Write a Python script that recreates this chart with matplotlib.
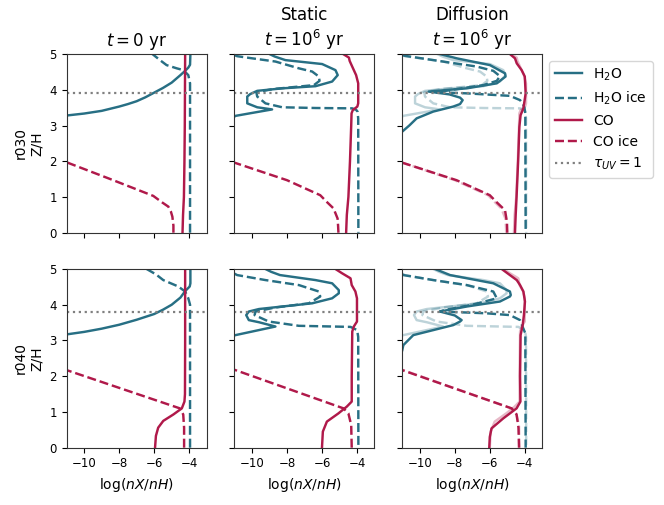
import matplotlib
matplotlib.use("Agg")
import matplotlib.pyplot as plt

# ---------------- data (log abundance x vs height z/H) ----------------
# r030, t = 0
r030_t0_h2o_z = [3.28, 3.335, 3.41, 3.53, 3.6, 3.68, 3.79, 3.92, 4.05, 4.2, 4.41, 4.53, 4.62, 4.7, 5.0]
r030_t0_h2o_x = [-11, -10, -9, -8, -7.5, -7, -6.5, -6, -5.5, -5, -4.5, -4.23, -4.05, -3.95, -3.93]
r030_t0_h2oice_z = [0, 4.18, 4.41, 4.55, 4.6, 4.69, 4.83, 5.0]
r030_t0_h2oice_x = [-3.95, -3.95, -4.05, -4.33, -4.71, -5.29, -5.67, -6.1]
r030_t0_co_z = [0, 0.5, 1.0, 2.0, 3.0, 4.0, 5.0]
r030_t0_co_x = [-4.38, -4.35, -4.3, -4.27, -4.25, -4.24, -4.23]
r030_t0_coice_z = [0, 0.2, 0.45, 0.6, 0.73, 0.85, 1.03, 1.5, 1.97]
r030_t0_coice_x = [-4.9, -4.9, -4.96, -5.05, -5.19, -5.55, -6.05, -8.5, -11]

# r030, static, t = 1e6 yr
r030_st_h2o_z = [5.0, 4.93, 4.83, 4.72, 4.55, 4.41, 4.23, 4.1, 4.04, 3.97, 3.88, 3.81,
                 3.62, 3.51, 3.45, 3.36, 3.27, 3.25]
r030_st_h2o_x = [-9.0, -8.7, -8.09, -5.99, -5.23, -5.1, -5.42, -6.37, -8.27, -9.7, -10.1, -10.27,
                 -10.27, -9.7, -8.85, -9.9, -10.94, -11]
r030_st_h2oice_z = [4.97, 4.94, 4.88, 4.79, 4.6, 4.51, 4.37, 4.25, 4.13, 4.02, 3.93, 3.81,
                    3.62, 3.51, 3.49, 3.48, 3.44, 3.39, 3.2, 0]
r030_st_h2oice_x = [-11, -10.85, -9.99, -8.66, -7.32, -6.56, -6.18, -6.14, -6.46, -8.8, -9.75, -9.7,
                    -9.23, -8.27, -6.37, -4.27, -4.05, -3.97, -3.93, -3.92]
r030_st_co_z = [5.0, 4.9, 4.81, 4.69, 4.55, 4.41, 4.18, 3.62, 3.53, 3.43, 3.34, 3.0, 2.0, 1.0, 0.5, 0]
r030_st_co_x = [-4.79, -4.46, -4.42, -4.31, -4.18, -4.05, -3.93, -3.93, -3.98, -4.24, -4.31,
                -4.33, -4.4, -4.49, -4.58, -4.62]
r030_st_coice_z = [0, 0.2, 0.4, 0.68, 0.85, 1.05, 1.47, 1.96]
r030_st_coice_x = [-5.06, -5.08, -5.11, -5.34, -5.7, -6.1, -8.0, -11]

# r030, diffusion, t = 1e6 yr
r030_df_h2o_z = [5.0, 4.88, 4.69, 4.46, 4.37, 4.18, 4.04, 3.95, 3.87, 3.78, 3.71, 3.6, 3.53,
                 3.39, 3.2, 3.0, 2.83]
r030_df_h2o_x = [-8.85, -7.89, -5.99, -5.13, -5.1, -5.6, -7.32, -9.5, -8.3, -7.7, -7.55, -7.7, -8.09,
                 -9.23, -10.18, -10.6, -11]
r030_df_h2oice_z = [4.97, 4.95, 4.76, 4.65, 4.53, 4.38, 4.25, 4.13, 3.99, 3.93, 3.9, 3.83, 3.71,
                    3.6, 3.5, 3.34, 0]
r030_df_h2oice_x = [-11, -10.85, -8.27, -6.75, -5.8, -5.42, -5.6, -6.37, -8.27, -9.04, -7.32, -4.85,
                    -4.27, -4.1, -4.02, -3.97, -3.95]
r030_df_co_z = [5.0, 4.88, 4.74, 4.55, 4.37, 3.9, 3.48, 3.29, 2.96, 2.0, 1.0, 0.5, 0]
r030_df_co_x = [-4.85, -4.56, -4.46, -4.18, -4.0, -3.95, -4.08, -4.24, -4.31, -4.38, -4.47, -4.52, -4.56]
r030_df_coice_z = [0, 0.3, 0.63, 0.85, 1.05, 1.47, 1.96]
r030_df_coice_x = [-5.0, -5.02, -5.13, -5.6, -6.0, -7.9, -11]

# r040, t = 0
r040_t0_h2o_z = [3.17, 3.24, 3.33, 3.44, 3.58, 3.74, 3.86, 4.0, 4.2, 4.38, 4.51, 4.6, 5.0]
r040_t0_h2o_x = [-11, -10, -9, -8, -7, -6, -5.5, -5, -4.5, -4.23, -3.97, -3.93, -3.93]
r040_t0_h2oice_z = [0, 4.0, 4.18, 4.37, 4.51, 4.69, 4.85, 5.0]
r040_t0_h2oice_x = [-3.95, -3.95, -4.05, -4.23, -4.62, -5.48, -5.9, -6.43]
r040_t0_co_z = [0, 0.33, 0.56, 0.75, 0.93, 1.1, 1.29, 1.5, 3.0, 5.0]
r040_t0_co_x = [-5.95, -5.9, -5.77, -5.48, -4.9, -4.42, -4.27, -4.24, -4.23, -4.23]
r040_t0_coice_z = [0, 0.56, 0.93, 1.0, 1.1, 2.17]
r040_t0_coice_x = [-4.29, -4.29, -4.34, -4.42, -4.53, -11]

# r040, static, t = 1e6 yr
r040_st_h2o_z = [5.0, 4.92, 4.83, 4.69, 4.6, 4.41, 4.32, 4.18, 4.04, 3.95, 3.88, 3.81, 3.71,
                 3.57, 3.51, 3.39, 3.15, 3.14]
r040_st_h2o_x = [-9.23, -8.9, -8.4, -6.37, -5.42, -5.04, -5.04, -5.42, -6.56, -8.27, -9.6, -10.18,
                 -10.33, -10.18, -9.6, -8.66, -10.94, -11]
r040_st_h2oice_z = [4.87, 4.83, 4.69, 4.55, 4.37, 4.23, 4.04, 3.92, 3.81, 3.71, 3.53, 3.41,
                    3.38, 3.29, 3.1, 0]
r040_st_h2oice_x = [-11, -10.85, -9.23, -7.32, -6.18, -6.1, -6.75, -8.7, -9.8, -9.85, -9.04, -7.32,
                    -4.37, -3.99, -3.93, -3.92]
r040_st_co_z = [5.0, 4.88, 4.74, 4.55, 4.37, 4.18, 3.53, 3.39, 3.25, 2.0, 1.29, 1.15, 0.96,
                0.73, 0.45, 0]
r040_st_co_x = [-5.23, -4.85, -4.37, -4.3, -4.09, -4.0, -4.0, -4.18, -4.27, -4.3, -4.3, -4.58,
                -5.06, -5.72, -5.95, -6.0]
r040_st_coice_z = [0, 0.63, 0.96, 1.1, 2.18]
r040_st_coice_x = [-4.30, -4.33, -4.49, -4.77, -11]

# r040, diffusion, t = 1e6 yr
r040_df_h2o_z = [5.0, 4.83, 4.6, 4.37, 4.27, 4.23, 4.09, 3.95, 3.81, 3.7, 3.57, 3.53, 3.43,
                 3.29, 3.15, 2.87, 2.73]
r040_df_h2o_x = [-9.13, -8.27, -5.8, -4.85, -4.8, -4.85, -5.42, -7.32, -8.85, -8.0, -7.61, -7.7,
                 -8.09, -9.23, -10.37, -10.94, -11]
r040_df_h2oice_z = [4.85, 4.83, 4.69, 4.55, 4.37, 4.18, 4.0, 3.85, 3.81, 3.78, 3.76, 3.71, 3.57,
                    3.39, 3.2, 0]
r040_df_h2oice_x = [-11, -10.94, -9.23, -7.32, -5.8, -5.6, -7.0, -8.6, -8.85, -7.2, -6.18, -4.85,
                    -4.27, -4.13, -3.97, -3.95]
r040_df_co_z = [5.0, 4.83, 4.69, 4.55, 4.37, 4.09, 3.71, 3.43, 3.15, 2.0, 1.29, 1.1, 0.82,
                0.54, 0.3, 0]
r040_df_co_x = [-5.32, -4.85, -4.46, -4.27, -4.08, -3.99, -4.05, -4.12, -4.24, -4.27, -4.25,
                -4.47, -5.23, -5.9, -6.0, -6.03]
r040_df_coice_z = [0, 0.56, 0.93, 1.1, 2.17]
r040_df_coice_x = [-4.33, -4.36, -4.47, -4.75, -11]

tau_uv = {"r030": 3.9, "r040": 3.8}
row_labels = ["r030", "r040"]
col_titles = ["$t = 0$ yr", "Static\n$t = 10^6$ yr", "Diffusion\n$t = 10^6$ yr"]
x_ticks = [-10, -8, -6, -4]
y_ticks = [0, 1, 2, 3, 4, 5]

species_labels = ["H$_2$O", "H$_2$O ice", "CO", "CO ice"]

panels = {
    ("r030", 0): [(r030_t0_h2o_x, r030_t0_h2o_z), (r030_t0_h2oice_x, r030_t0_h2oice_z),
                  (r030_t0_co_x, r030_t0_co_z), (r030_t0_coice_x, r030_t0_coice_z)],
    ("r030", 1): [(r030_st_h2o_x, r030_st_h2o_z), (r030_st_h2oice_x, r030_st_h2oice_z),
                  (r030_st_co_x, r030_st_co_z), (r030_st_coice_x, r030_st_coice_z)],
    ("r030", 2): [(r030_df_h2o_x, r030_df_h2o_z), (r030_df_h2oice_x, r030_df_h2oice_z),
                  (r030_df_co_x, r030_df_co_z), (r030_df_coice_x, r030_df_coice_z)],
    ("r040", 0): [(r040_t0_h2o_x, r040_t0_h2o_z), (r040_t0_h2oice_x, r040_t0_h2oice_z),
                  (r040_t0_co_x, r040_t0_co_z), (r040_t0_coice_x, r040_t0_coice_z)],
    ("r040", 1): [(r040_st_h2o_x, r040_st_h2o_z), (r040_st_h2oice_x, r040_st_h2oice_z),
                  (r040_st_co_x, r040_st_co_z), (r040_st_coice_x, r040_st_coice_z)],
    ("r040", 2): [(r040_df_h2o_x, r040_df_h2o_z), (r040_df_h2oice_x, r040_df_h2oice_z),
                  (r040_df_co_x, r040_df_co_z), (r040_df_coice_x, r040_df_coice_z)],
}

# ---------------- style ----------------
TEAL = "#276f84"
CRIM = "#b0194a"
colors = [TEAL, TEAL, CRIM, CRIM]
styles = ["-", "--", "-", "--"]
LW = 1.75

plt.rcParams["font.family"] = ["DejaVu Sans"]
plt.rcParams["axes.edgecolor"] = "#333333"

fig, axes = plt.subplots(2, 3, figsize=(6.64, 5.05), dpi=100, sharex=True, sharey=True)
fig.subplots_adjust(left=0.1004, right=0.8167, top=0.893, bottom=0.1135,
                    wspace=0.1986, hspace=0.203)

for r, rl in enumerate(row_labels):
    for c in range(3):
        ax = axes[r, c]
        if c == 2:
            for (xs, zs), col, ls in zip(panels[(rl, 1)], colors, styles):
                ax.plot(xs, zs, color=col, ls=ls, lw=LW, alpha=0.3)
        handles = []
        for (xs, zs), col, ls, lab in zip(panels[(rl, c)], colors, styles, species_labels):
            h, = ax.plot(xs, zs, color=col, ls=ls, lw=LW, label=lab)
            handles.append(h)
        th = ax.axhline(tau_uv[rl], color="gray", ls=":", lw=1.6, label=r"$\tau_{UV} = 1$")
        handles.append(th)
        ax.set_xlim(-11, -3)
        ax.set_ylim(0, 5)
        ax.set_xticks(x_ticks)
        ax.set_yticks(y_ticks)
        ax.tick_params(labelsize=8.5)
        if r == 0:
            ax.set_title(col_titles[c], fontsize=12)
        if r == 1:
            ax.set_xlabel("log($nX/nH$)", fontsize=10)
        if c == 0:
            ax.set_ylabel(f"{rl}\nZ/H", fontsize=10)
        if r == 0 and c == 2:
            ax.legend(handles=handles, loc="upper left", bbox_to_anchor=(1.048, 0.9625),
                      borderaxespad=0, fontsize=10)

fig.savefig("out.png", dpi=100)
